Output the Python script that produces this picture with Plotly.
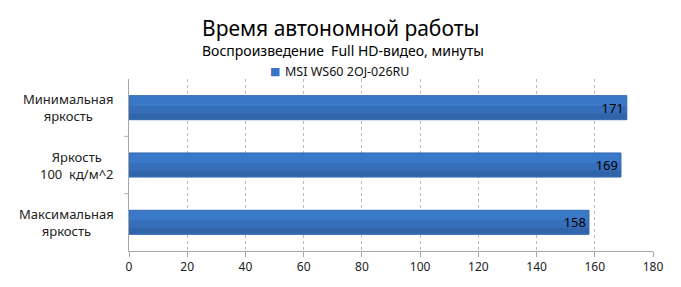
import plotly.graph_objects as go

categories = ["Максимальная яркость", "Яркость 100 кд/м^2", "Минимальная яркость"]
category_labels = ["Максимальная<br>яркость", "Яркость<br>100  кд/м^2", "Минимальная<br>яркость"]
values = [158, 169, 171]
series_name = "MSI WS60 2OJ-026RU"
title = "Время автономной работы"
subtitle = "Воспроизведение  Full HD-видео, минуты"
x_ticks = [0, 20, 40, 60, 80, 100, 120, 140, 160, 180]

FONT = "Noto Sans"
L, R, T, B = 129, 28, 79, 27
PW, PH = 681 - L - R, 287 - T - B

def px_x(px):
    return (px - L) / PW

def px_y(py):
    return 1 - (py - T) / PH

BAR_W = 0.42

fig = go.Figure()
# main bar (lighter top)
fig.add_trace(go.Bar(
    y=categories, x=values, orientation="h", name=series_name,
    marker=dict(color="#3A78C8", line=dict(color="#3468AE", width=1)),
    width=BAR_W, offset=-BAR_W / 2, showlegend=False, hoverinfo="skip",
))
# slightly darker lower bands to mimic the gradient
fig.add_trace(go.Bar(
    y=categories, x=values, orientation="h",
    marker=dict(color="#366EB9", line=dict(width=0)),
    width=0.14, offset=-BAR_W / 2 + 0.1, showlegend=False, hoverinfo="skip",
))
fig.add_trace(go.Bar(
    y=categories, x=values, orientation="h",
    marker=dict(color="#3165AA", line=dict(width=0)),
    width=0.1, offset=-BAR_W / 2 + 0.01, showlegend=False, hoverinfo="skip",
))
# labels
fig.add_trace(go.Bar(
    y=categories, x=values, orientation="h",
    marker=dict(color="rgba(0,0,0,0)", line=dict(width=0)),
    width=BAR_W, offset=-BAR_W / 2,
    text=[str(v) for v in values], textposition="inside", insidetextanchor="end",
    textfont=dict(family=FONT, size=13, color="#000000"),
    showlegend=False, hoverinfo="skip",
))

fig.update_layout(
    width=681, height=287,
    margin=dict(l=L, r=R, t=T, b=B),
    paper_bgcolor="white", plot_bgcolor="white",
    font=dict(family=FONT, color="#222222"),
    showlegend=False, barmode="overlay",
)

fig.add_annotation(text=title, xref="paper", yref="paper",
                   x=px_x(340), y=px_y(25), xanchor="center", yanchor="middle",
                   showarrow=False, font=dict(family=FONT, size=21, color="#000000"))
fig.add_annotation(text=subtitle, xref="paper", yref="paper",
                   x=px_x(343), y=px_y(49), xanchor="center", yanchor="middle",
                   showarrow=False, font=dict(family=FONT, size=14, color="#000000"))
# legend
fig.add_annotation(text="■", xref="paper", yref="paper",
                   x=px_x(282), y=px_y(71), xanchor="right", yanchor="middle",
                   showarrow=False, font=dict(family="DejaVu Sans", size=11, color="#3A73C2"))
fig.add_annotation(text=series_name, xref="paper", yref="paper",
                   x=px_x(283), y=px_y(71), xanchor="left", yanchor="middle",
                   showarrow=False, font=dict(family=FONT, size=12.5, color="#111111"))
# category labels, centered lines
for c, lab in zip(categories, category_labels):
    fig.add_annotation(text=lab, xref="paper", yref="y", x=px_x(116), y=c,
                       xanchor="right", yanchor="middle", align="center",
                       showarrow=False, font=dict(family=FONT, size=13, color="#222222"))

fig.update_xaxes(range=[0, 180], tickvals=x_ticks, showgrid=True,
                 gridcolor="#BBBBBB", griddash="dot", gridwidth=1,
                 showline=True, linecolor="#A6A6A6", linewidth=1,
                 ticks="outside", ticklen=5, tickcolor="#A6A6A6",
                 tickfont=dict(family=FONT, size=12, color="#222222"),
                 zeroline=False, fixedrange=True)
fig.update_yaxes(showgrid=False, showline=True, linecolor="#A6A6A6", linewidth=1,
                 ticks="", showticklabels=False, fixedrange=True)

for b in [0.5, 1.5]:
    fig.add_shape(type="line", xref="paper", yref="y", x0=-0.009, x1=0, y0=b, y1=b,
                  line=dict(color="#A6A6A6", width=1))

fig.write_html("out.html")
